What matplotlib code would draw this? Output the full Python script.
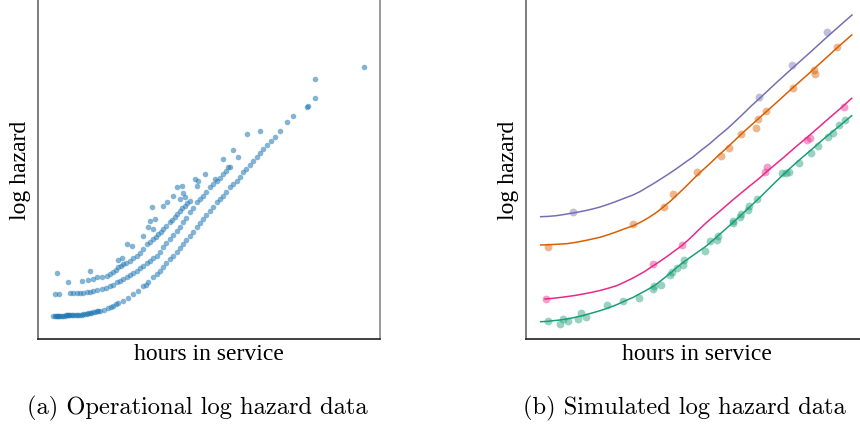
import matplotlib
matplotlib.use("Agg")
import matplotlib.pyplot as plt

# ---------------- data: operational log hazard (panel a) ----------------
band1_x = [15.3, 16.5, 17.5, 18.7, 20, 21, 22, 23.5, 25.3, 26.5, 27.5, 28.7, 30, 31, 32, 33.5,
           35.3, 36.5, 38.7, 40, 42, 43.5, 45.3, 47, 48.7, 50, 52, 53.5, 55.3, 57, 58.7, 60, 62,
           66, 70.3, 73, 75.3, 78, 80.3, 85.3, 90.3, 95.3, 100.3, 105.3, 108, 110.3, 115.3,
           118.7, 122, 125.3, 128.5, 132, 135, 138.7, 142, 145.3, 148.5, 152, 155, 158.7, 162,
           165.3, 168.5, 172, 175, 178.7, 182, 185.3, 188.5, 192, 195, 198.7, 202, 205.3, 208.5,
           212, 215, 218.7, 222, 225.3, 228.7, 233, 237, 242, 248.7, 255.3, 268.7, 270.3, 277.3]
band1_y = [23.3, 23.3, 23.3, 23.3, 23.3, 23.3, 23.3, 23.3, 23.3, 23.5, 23.6, 23.7, 23.7, 23.8,
           23.7, 23.9, 24, 24, 24, 24.2, 24.3, 24.4, 24.7, 25, 25.3, 25.6, 26, 26.3, 26.7, 27.2,
           27.7, 28, 28.3, 29.5, 30.7, 32, 33.3, 34.7, 36, 38.3, 40.7, 45, 48.3, 52.7, 54.5, 56.7,
           61.7, 65, 68.5, 71.7, 76, 80, 83, 86.7, 91, 95, 99, 103.3, 107.5, 111.7, 116, 120,
           124, 128.3, 132.5, 136.7, 140, 143.3, 147.5, 151.7, 155, 158.3, 162.5, 166.7, 170.5,
           174.3, 178, 181.7, 186, 190, 194.3, 198, 201.7, 208.3, 216.7, 222.7, 231.7, 233.3, 241]

band2_x = [17, 21.3, 32, 35, 38.7, 42, 45, 48.7, 52, 55.3, 59, 63.7, 68, 72, 75, 78.7, 82, 85.3,
           89, 92, 95, 98.7, 102, 105.3, 109, 112, 115.5, 118.7, 122, 125.3, 128.5, 132, 135.5,
           138.7, 142, 145.3, 148.5, 152, 155, 158.7, 162, 165.3, 168.5, 172, 175, 178.7, 182,
           185.3, 188.5, 192]
band2_y = [45, 45, 45.7, 45.8, 46, 46, 46.3, 46.7, 47.3, 48, 49, 50, 51.3, 52.7, 54.5, 56.7, 58.3,
           60, 62, 64, 66, 68.3, 70.7, 73.3, 75.8, 78.3, 80.8, 83.3, 87.5, 91.7, 95.8, 100, 104,
           108.3, 112.5, 116.7, 121.5, 126.7, 131.5, 136.7, 140, 143.3, 147.5, 151.7, 155, 158.3,
           161.5, 165, 168.5, 171.7]

band3_x = [43.7, 50.3, 55, 58.7, 63.7, 68.7, 72, 75.3, 78, 80.3, 83, 85.3, 88.5, 92, 95.3, 98.7,
           102, 105.3, 108.7, 112, 115.3, 118, 120.3, 123, 125.3, 128.5, 132, 134.5, 137, 139.5,
           142, 144.5, 147, 149.5, 152]
band3_y = [58.3, 59, 60.5, 61.7, 62.3, 63.3, 65, 67.3, 69.5, 71.7, 73.5, 75, 76.5, 78.3, 80.8,
           83.3, 86.5, 90, 95, 97.5, 100, 102.5, 105, 107.5, 110, 113.3, 116.7, 119, 121.7, 125,
           128.3, 130.8, 133.3, 135.8, 138.3]

outlier_x = [19.3, 29.7, 52, 80.3, 83.7, 88.7, 93.7, 105.3, 110.3, 112, 117, 113.7, 115.3, 125.3,
             128.7, 135.3, 138.7, 143.7, 142, 145.3, 147, 157, 160.3, 158.7, 167, 177, 185.3,
             190.3, 195.3, 200.3, 208.7, 222, 277, 326.3]
outlier_y = [66, 57.3, 68.3, 79, 80.7, 95, 93.3, 103.3, 111.7, 118.3, 120, 131.7, 110, 133.3,
             136.7, 143.3, 151.7, 153.3, 140, 146, 141.7, 160, 158.3, 153.3, 165, 160, 180,
             171.7, 189.3, 181.7, 205, 207.7, 260, 272.3]

# ---------------- data: simulated log hazard (panel b) ----------------
purple_line_x = [14.7, 22, 30, 38, 47, 54, 60, 67, 74, 82, 90, 98, 107, 114, 120, 127, 134, 142,
                 150, 158, 167, 175, 184, 192, 201, 209, 217, 225, 234, 250, 266, 284, 301, 314,
                 326]
purple_line_y = [122.3, 122.6, 123.3, 124.5, 126, 127.3, 128.5, 130.1, 132, 134.6, 137.5, 140.6,
                 144, 147.4, 151, 155.1, 159.5, 164.6, 170, 175.8, 182, 188.6, 195.5, 202.6,
                 210, 217.4, 225, 232.8, 241, 256, 270.5, 286.5, 302, 313.5, 324]
purple_pts_x = [46.7, 233.3, 265.7, 300.7]
purple_pts_y = [126.7, 242.3, 274, 307.3]

orange_line_x = [14.7, 21, 27, 34, 40.7, 49, 57, 65, 74, 82, 90, 98, 107.3, 115, 122, 130,
                 137.3, 145, 152, 160, 167.3, 175, 184, 192, 200.7, 217, 234, 250, 267.3, 284,
                 300, 312, 325.7]
orange_line_y = [94, 94.2, 94.5, 94.9, 95.3, 96.5, 98, 99.7, 101.7, 104.2, 107, 110, 113.3, 117,
                 121, 126.2, 132, 138.4, 145, 152.6, 160, 167.4, 175.5, 183.2, 191, 206.5,
                 221.7, 236, 251.7, 266.5, 281, 292, 304]
orange_pts_x = [21.7, 107.3, 138, 146.7, 170.7, 195.3, 203.3, 214.7, 230, 231.7, 240, 267.3,
                288.3, 289, 311.3]
orange_pts_y = [91.7, 114.7, 132.3, 145.3, 167, 183.3, 190.7, 205, 210.7, 220, 228.3, 251,
                269, 265, 292.3]

pink_line_x = [19, 28, 38, 48, 57.3, 66, 74, 82, 90.7, 99, 108, 118, 127.3, 134, 141, 148,
               155.7, 162, 168, 174, 180.7, 194, 207.3, 220, 233, 245, 257, 269, 281, 293, 305,
               315, 325.7]
pink_line_y = [40, 40.8, 42, 43.4, 45, 46.7, 48.5, 50.7, 53.3, 57.1, 61.5, 67.1, 73.3, 77.7,
               82.5, 87.7, 93.3, 98.8, 104.5, 110.4, 116.7, 128, 139.5, 150, 160.5, 171, 181,
               191.5, 201.5, 212, 222.5, 231, 240.7]
pink_pts_x = [19.7, 126.7, 156, 239, 241, 280.7, 284, 318]
pink_pts_y = [40.3, 75, 94.3, 166.7, 171.7, 198.7, 200.7, 232.3]

green_line_x = [14.7, 21, 27, 34, 40.7, 49, 57, 65, 74, 82, 90, 98, 107.3, 113, 119, 125,
                130.7, 137, 144, 150, 157.3, 169, 180.7, 194, 207.3, 220, 234, 245, 255.7, 271,
                287.3, 297, 307.3, 317, 325.7]
green_line_y = [17.3, 17.6, 18.3, 19, 20, 21.6, 23.5, 25.7, 28.3, 31, 34, 37.6, 41.7, 44.8, 48,
                51.4, 55, 60, 65.5, 70.8, 76.7, 85, 93.3, 105, 116.7, 128.5, 141.7, 152.5, 163,
                177, 191, 199.5, 208, 216, 223.3]
green_pts_x = [21.7, 34, 37.3, 42.3, 52.3, 55, 60, 80.7, 97.3, 113.3, 127.3, 128.3, 134.7, 144,
               146.3, 150.7, 156.7, 158, 179, 184, 191.3, 192, 206.7, 206.7, 214, 214.7, 222.3,
               223.3, 230.7, 255.7, 260, 262.7, 273.3, 284.7, 292.3, 302.3, 307.3, 313.3, 319]
green_pts_y = [17.7, 15, 20, 17.7, 20, 26, 22.3, 34.3, 38, 40.7, 50, 53.3, 54.3, 64, 66.7, 70.7,
               74.3, 79, 88.3, 98.3, 99, 103.3, 116, 118.3, 121.7, 125, 129.3, 133.3, 140, 165.7,
               166, 167.3, 176, 186, 193.3, 201.7, 206, 214, 218.7]

captions = ["(a) Operational log hazard data", "(b) Simulated log hazard data"]
xlabel = "hours in service"
ylabel = "log hazard"

# ---------------- figure ----------------
W, H = 860, 427
fig = plt.figure(figsize=(W / 100, H / 100), dpi=100)
label_font = dict(family=["Liberation Serif", "DejaVu Serif"], size=17)


def style(ax):
    ax.set_xlim(0, 342)
    ax.set_ylim(0, 340)
    ax.set_xticks([])
    ax.set_yticks([])
    ax.spines["left"].set_color("#666666")
    ax.spines["bottom"].set_color("#222222")
    ax.spines["right"].set_color("#888888")
    ax.spines["top"].set_color("#d4d4d4")
    for s in ax.spines.values():
        s.set_linewidth(1.2)
    ax.set_xlabel(xlabel, labelpad=3, **label_font)
    ax.set_ylabel(ylabel, labelpad=5, **label_font)


ax1 = fig.add_axes([38 / W, 87 / H, 342 / W, 340 / H])
style(ax1)
blue = "#1f77b4"
for xs, ys in [(band1_x, band1_y), (band2_x, band2_y), (band3_x, band3_y), (outlier_x, outlier_y)]:
    ax1.scatter(xs, ys, s=16, color=blue, alpha=0.55, linewidths=0)

ax2 = fig.add_axes([526 / W, 87 / H, 342 / W, 340 / H])
style(ax2)
series = [
    (green_line_x, green_line_y, green_pts_x, green_pts_y, "#1b9e77"),
    (pink_line_x, pink_line_y, pink_pts_x, pink_pts_y, "#e7298a"),
    (orange_line_x, orange_line_y, orange_pts_x, orange_pts_y, "#d95f02"),
    (purple_line_x, purple_line_y, purple_pts_x, purple_pts_y, "#7570b3"),
]
for lx, ly, px, py, c in series:
    ax2.scatter(px, py, s=32, color=c, alpha=0.45, linewidths=0, zorder=2)
    ax2.plot(lx, ly, color=c, lw=1.1, zorder=3)

cap_font = dict(family=["cmr10", "DejaVu Serif"], size=17.6)
fig.text(197 / W, 1 - 408 / H, captions[0], ha="center", va="center", **cap_font)
fig.text(684 / W, 1 - 408 / H, captions[1], ha="center", va="center", **cap_font)

fig.savefig("out.png", dpi=100)
